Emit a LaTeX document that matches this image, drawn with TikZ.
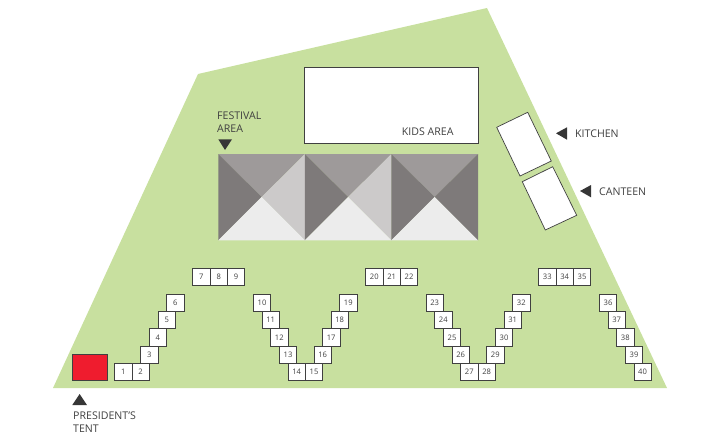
\documentclass[tikz,border=0pt]{standalone}
\usepackage{fontspec}
\setmainfont{Open Sans}
\definecolor{ground}{HTML}{C8E09F}
\definecolor{inkgrey}{HTML}{404040}
\definecolor{tentred}{HTML}{EF1C2E}
\tikzset{
	seat/.style={draw=inkgrey,fill=white,line width=0.7pt,minimum size=17.3pt,inner sep=0pt,text=inkgrey,font=\fontsize{7.6}{9}\selectfont},
	area/.style={draw=inkgrey,fill=white,line width=0.7pt},
	place/.style={inner sep=0pt,anchor=north west,align=left,text=inkgrey,font=\fontsize{10.6}{12.6}\selectfont},
	pointer/.style={fill=inkgrey!85!black}
}

\begin{document}
\begin{tikzpicture}[x=1pt,y=-1pt]
	\useasboundingbox (0,0) rectangle (720,436);
	% ground
	\fill[ground] (53,388) -- (198,74) -- (487,8) -- (667,388) -- cycle;

	% kids area, kitchen, canteen
	\draw[area] (304.5,67.5) rectangle (478,143.3);
	\draw[area] (527.7,112.3) -- (496.7,127.3) -- (520,176) -- (551.3,161) -- cycle;
	\draw[area] (552.7,166.7) -- (522.3,181.7) -- (545.3,230) -- (576.7,215.3) -- cycle;
	\draw[area,fill=tentred] (72.3,354.3) rectangle (107.7,380.7);

	% festival tents
	\foreach \tentx/\rightshade in {218.3/CCCACA,304.8/CCCACA,391.3/7E7A7A} {
		\definecolor{rightcol}{HTML}{\rightshade}
		\begin{scope}[shift={(\tentx,154)}]
			\fill[fill={rgb,255:red,158;green,154;blue,154}] (0,0) -- (86.7,0) -- (43.3,43) -- cycle;
			\fill[fill={rgb,255:red,126;green,122;blue,122}] (0,0) -- (43.3,43) -- (0,86.3) -- cycle;
			\fill[rightcol] (86.7,0) -- (43.3,43) -- (86.7,86.3) -- cycle;
			\fill[fill={rgb,255:red,236;green,236;blue,236}] (0,86.3) -- (43.3,43) -- (86.7,86.3) -- cycle;
		\end{scope}
	}

	% seats
	\foreach \num/\seatx/\seaty in {
		1/123.2/372,2/140.5/372,3/149.3/354.7,4/157.9/337.3,5/166.7/320,6/175.3/302.7,
		7/201.3/276.7,8/218.7/276.7,9/236/276.7,
		10/262/302.7,11/270.7/320,12/279.3/337.3,13/288/354.7,14/296.6/372,
		15/314/372,16/322.7/354.7,17/331.2/337.3,18/339.7/320,19/348.3/302.7,
		20/374.3/276.7,21/391.7/276.7,22/409/276.7,
		23/434.7/302.7,24/443.3/320,25/452/337.3,26/460.7/354.7,27/469.3/372,
		28/486.7/372,29/495.3/354.7,30/504/337.3,31/512.7/320,32/521.3/302.7,
		33/547.3/276.7,34/564.7/276.7,35/582/276.7,
		36/608/302.7,37/616.7/320,38/625.3/337.3,39/634/354.7,40/642.5/372} {
		\node[seat] (seat\num) at (\seatx,\seaty) {\num};
	}

	% labels
	\node[place] (kids) at (401.7,128) {KIDS AREA};
	\node[place] (festival) at (217,112) {FESTIVAL\\AREA};
	\node[place] (kitchen) at (575,129.3) {KITCHEN};
	\node[place] (canteen) at (599,187.3) {CANTEEN};
	\node[place] (president) at (73,412) {PRESIDENT’S\\TENT};

	% pointers
	\fill[pointer] (218.3,139.3) -- (232,139.3) -- (225,150) -- cycle;
	\fill[pointer] (556,133.3) -- (567,127.3) -- (567,139.7) -- cycle;
	\fill[pointer] (580,191) -- (591,185) -- (591,197.3) -- cycle;
	\fill[pointer] (72.3,405) -- (87,405) -- (79.6,394) -- cycle;
\end{tikzpicture}
\end{document}
